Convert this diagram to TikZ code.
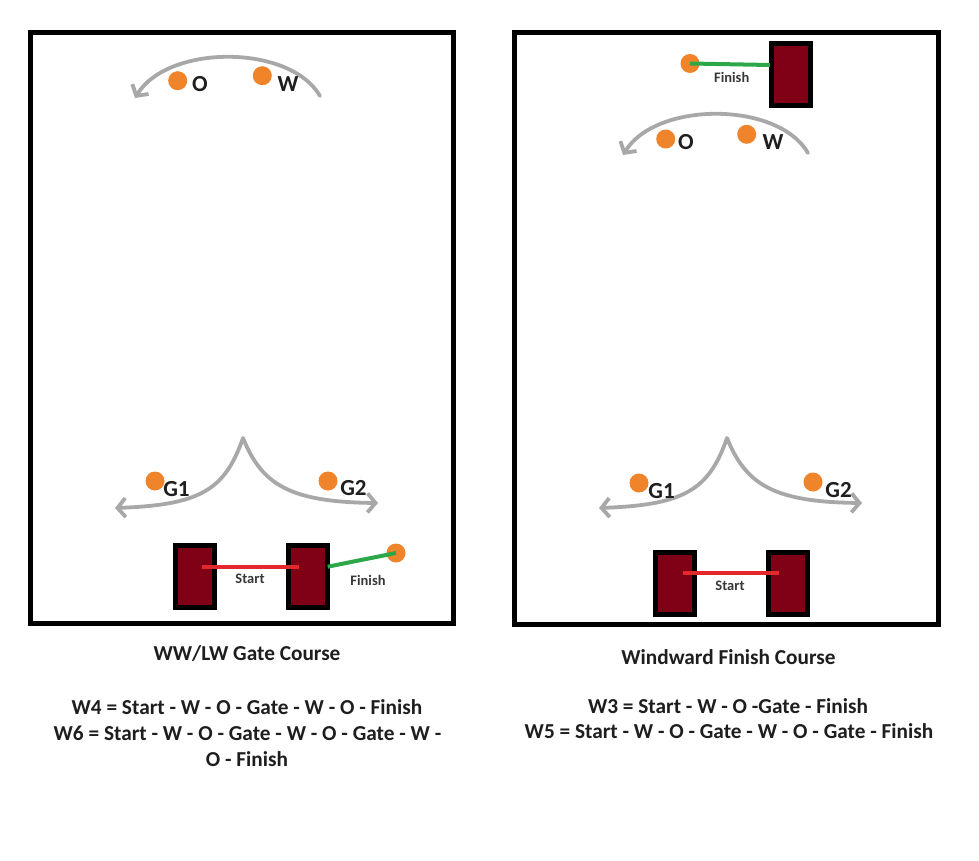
\documentclass[tikz,border=0pt]{standalone}
\usepackage{fontspec}
\setmainfont{Carlito}
\usetikzlibrary{arrows.meta}
\definecolor{markorange}{RGB}{240,132,42}
\definecolor{boatred}{RGB}{128,0,22}
\definecolor{arcgray}{RGB}{168,168,168}
\definecolor{startred}{RGB}{228,38,45}
\definecolor{fingreen}{RGB}{44,168,72}
\definecolor{inkdark}{RGB}{30,30,30}
\begin{document}
\begin{tikzpicture}[x=1pt,y=-1pt,
  >={Straight Barb[length=8pt,width=19pt]},
  frame/.style={draw=black, line width=5pt},
  buoy/.style={circle, fill=markorange, minimum size=19pt, inner sep=0pt},
  boatbox/.style={draw=black, fill=boatred, line width=5pt, minimum width=39pt, minimum height=62pt, inner sep=0pt},
  marklbl/.style={font=\fontsize{23}{27}\selectfont\bfseries, text=inkdark, inner sep=0pt},
  smalllbl/.style={font=\fontsize{14.5}{17}\selectfont\bfseries, text=black!78, inner sep=0pt},
  formula/.style={font=\fontsize{21.3}{25}\selectfont\bfseries, text=inkdark, anchor=base, inner sep=0pt},
  arcline/.style={draw=arcgray, line width=3.8pt, line cap=round, line join=round},
  startline/.style={draw=startred, line width=4pt},
  finline/.style={draw=fingreen, line width=4pt}
]
\useasboundingbox (0,0) rectangle (979,861);
\fill[white] (0,0) rectangle (979,861);

% ---------- frames ----------
\node[frame, minimum width=423.5pt, minimum height=591pt, inner sep=0pt] (panelL) at (241.75,328) {};
\node[frame, minimum width=423.5pt, minimum height=591pt, inner sep=0pt] (panelR) at (726.25,328.5) {};

% ---------- left panel ----------
% windward arc
\coordinate (aLs) at (320,96);
\coordinate (aLe) at (135,98);
\draw[arcline, ->] (aLs) .. controls (290,44) and (168,44) .. (aLe);
\node[buoy] (oL) at (177.7,80.7) {};
\node[buoy] (wL) at (262.3,75.7) {};
\node[marklbl] (oLl) at (200,84.5) {O};
\node[marklbl] (wLl) at (288,84.5) {W};

% gate curve
\coordinate (gLl) at (115,508);
\coordinate (gLp) at (243,438);
\coordinate (gLr) at (378,503);
\draw[arcline, <->] (gLl) .. controls (200,505) and (225,490) .. (gLp)
  .. controls (262,485) and (290,502) .. (gLr);
\node[buoy] (g1L) at (155,481) {};
\node[buoy] (g2L) at (328,481) {};
\node[marklbl] (g1Ll) at (176.5,489.5) {G1};
\node[marklbl] (g2Ll) at (353.5,488.5) {G2};

% start / finish
\node[boatbox] (b1L) at (194.7,576.5) {};
\node[boatbox] (b2L) at (307.9,576.5) {};
\coordinate (s1L) at (201.7,566.7);
\coordinate (s2L) at (299.3,566.7);
\draw[startline] (s1L) -- (s2L);
\node[smalllbl] (stL) at (250,579) {Start};
\node[buoy] (fL) at (396,553) {};
\coordinate (f0L) at (327.7,566.7);
\draw[finline] (f0L) -- (fL.center);
\node[smalllbl] (fiL) at (368,580) {Finish};

% ---------- right panel ----------
% finish at top
\node[boatbox] (b5R) at (791.3,75) {};
\node[buoy] (fR) at (690,63.5) {};
\coordinate (f0R) at (769.8,65);
\draw[finline] (fR.center) -- (f0R);
\node[smalllbl] (fiR) at (731.7,77.7) {Finish};

% windward arc
\coordinate (aRs) at (808,153);
\coordinate (aRe) at (623,155);
\draw[arcline, ->] (aRs) .. controls (778,101) and (656,101) .. (aRe);
\node[buoy] (oR) at (665.7,139) {};
\node[buoy] (wR) at (746.7,134.3) {};
\node[marklbl] (oRl) at (686,142.5) {O};
\node[marklbl] (wRl) at (773,142.5) {W};

% gate curve
\coordinate (gRl) at (599,508);
\coordinate (gRp) at (727,438);
\coordinate (gRr) at (862,503);
\draw[arcline, <->] (gRl) .. controls (684,505) and (709,490) .. (gRp)
  .. controls (746,485) and (774,502) .. (gRr);
\node[buoy] (g1R) at (639,483) {};
\node[buoy] (g2R) at (813,482) {};
\node[marklbl] (g1Rl) at (661.5,491) {G1};
\node[marklbl] (g2Rl) at (838.5,490) {G2};

% start
\node[boatbox] (b3R) at (675,583.3) {};
\node[boatbox] (b4R) at (788.2,583.3) {};
\coordinate (s1R) at (682.7,573.3);
\coordinate (s2R) at (779.3,573.3);
\draw[startline] (s1R) -- (s2R);
\node[smalllbl] (stR) at (730,585.7) {Start};

% ---------- captions ----------
\node[formula] (tL) at (247,660) {WW/LW Gate Course};
\node[formula] (l1L) at (247,714) {W4 = Start - W - O - Gate - W - O - Finish};
\node[formula] (l2L) at (247.5,740) {W6 = Start - W - O - Gate - W - O - Gate - W -};
\node[formula] (l3L) at (247,766) {O - Finish};

\node[formula] (tR) at (728.5,664) {Windward Finish Course};
\node[formula] (l1R) at (728,713.3) {W3 = Start - W - O -Gate - Finish};
\node[formula] (l2R) at (729,738.3) {W5 = Start - W - O - Gate - W - O - Gate - Finish};
\end{tikzpicture}
\end{document}
